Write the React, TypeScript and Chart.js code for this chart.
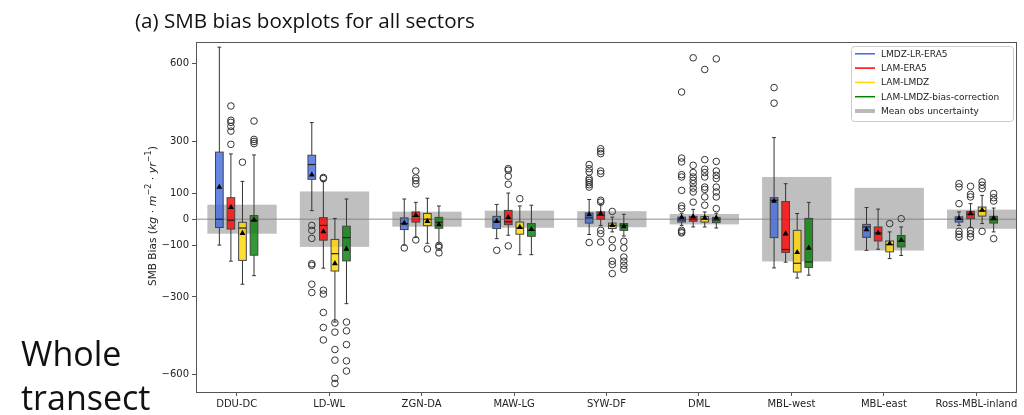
import React, { useEffect, useRef } from "react";
import { Chart, registerables } from "chart.js";

Chart.register(...registerables);

// ---------- data ----------
const categories = ["DDU-DC", "LD-WL", "ZGN-DA", "MAW-LG", "SYW-DF", "DML", "MBL-west", "MBL-east", "Ross-MBL-inland"];
const seriesNames = ["LMDZ-LR-ERA5", "LAM-ERA5", "LAM-LMDZ", "LAM-LMDZ-bias-correction"];
const yTickValues = [-600, -300, -100, 0, 100, 300, 600];
const obsUncertainty = [56, 107, 29, 33, 31, 20, 163, 121, 37];

// LMDZ-LR-ERA5
const lmdzLrEra5Low = [-100, 33, -100, -75, -59, -24, -188, -120, -24];
const lmdzLrEra5Q1 = [-32, 154, -40, -36, -15, -11, -71, -70, -11];
const lmdzLrEra5Median = [0, 211, -17, -9, 5, -3, 73, -30, 0];
const lmdzLrEra5Q3 = [259, 247, 5, 11, 24, 8, 83, -20, 9];
const lmdzLrEra5High = [664, 373, 78, 57, 76, 23, 315, 45, 28];
const lmdzLrEra5Mean = [124, 171, -15, -8, 18, 7, 70, -40, 3];
const lmdzLrEra5Outliers = [
  [],
  [-24, -43, -74, -172, -178, -251, -283],
  [-111],
  [-120],
  [211, 195, 182, 157, 150, 141, 133, 124, -90],
  [491, 236, 221, 172, 163, 111, 51, 41, -43, -49, -53],
  [508, 448],
  [],
  [137, 124, 60, -47, -58, -69],
];

// LAM-ERA5
const lamEra5Low = [-162, -189, -70, -62, -24, -30, -166, -116, -32];
const lamEra5Q1 = [-38, -81, -11, -21, 0, -8, -128, -84, 2];
const lamEra5Median = [-4, -24, 11, -10, 15, 0, -117, -53, 19];
const lamEra5Q3 = [83, 6, 28, 34, 28, 11, 68, -30, 30];
const lamEra5High = [252, 145, 65, 101, 56, 38, 137, 39, 60];
const lamEra5Mean = [46, -48, 15, 7, 22, 10, -56, -53, 22];
const lamEra5Outliers = [
  [437, 382, 374, 358, 340, 289],
  [161, 157, -274, -289, -360, -418, -466],
  [186, 159, 149, 136, -80],
  [195, 189, 166, 135, -103],
  [272, 262, 253, 186, 176, 73, 66, -43, -56, -88],
  [623, 208, 180, 163, 150, 137, 120, 105, 66],
  [],
  [],
  [127, 96, 86, -43, -56, -69],
];

// LAM-LMDZ
const lamLmdzLow = [-251, -397, -93, -137, -49, -30, -227, -152, -17];
const lamLmdzQ1 = [-159, -200, -25, -58, -36, -11, -204, -126, 12];
const lamLmdzMedian = [-34, -133, 0, -34, -24, 0, -170, -98, 32];
const lamLmdzQ3 = [-12, -78, 22, -11, -15, 10, -43, -84, 47];
const lamLmdzHigh = [146, 3, 81, 51, 8, 28, 22, -49, 92];
const lamLmdzMean = [-54, -171, -8, -31, -24, 5, -128, -94, 35];
const lamLmdzOutliers = [
  [220],
  [-400, -436, -503, -544, -614, -634],
  [-115],
  [79],
  [30, -79, -110, -162, -175, -210],
  [578, 230, 193, 180, 163, 124, 115, 86, 54],
  [],
  [-17],
  [144, 131, 118, -47],
];

// LAM-LMDZ-bias-correction
const lamLmdzBcLow = [-218, -326, -96, -137, -65, -34, -216, -140, -49];
const lamLmdzBcQ1 = [-139, -161, -35, -66, -43, -13, -186, -107, -15];
const lamLmdzBcMedian = [-5, -71, -12, -43, -24, -3, -165, -85, -2];
const lamLmdzBcQ3 = [14, -27, 7, -17, -17, 7, 3, -63, 11];
const lamLmdzBcHigh = [248, 78, 51, 54, 19, 23, 65, -30, 43];
const lamLmdzBcMean = [-3, -115, -21, -39, -28, 5, -111, -81, 4];
const lamLmdzBcOutliers = [
  [379, 308, 300, 292],
  [-397, -431, -484, -547, -586],
  [-101, -108, -130],
  [],
  [-85, -111, -146, -162, -178, -193],
  [619, 223, 186, 169, 157, 124, 105, 86, 41],
  [],
  [2],
  [99, 83, 70, -75],
];

// ---------- styling ----------
const boxFills = ["rgba(65,105,225,0.8)", "rgba(255,0,0,0.8)", "rgba(255,215,0,0.8)", "rgba(0,128,0,0.8)"];
const legendColors = ["#4169e1", "#ff0000", "#ffd700", "#008000"];
const groupOffsets = [-0.1875, -0.0625, 0.0625, 0.1875];
const BOX_W = 0.083;
const RECT_W = 0.75;
const RECT_SHIFT = 0.058;
const FONT = "'DejaVu Sans', sans-serif";

const stats = [
  { low: lmdzLrEra5Low, q1: lmdzLrEra5Q1, med: lmdzLrEra5Median, q3: lmdzLrEra5Q3, high: lmdzLrEra5High, mean: lmdzLrEra5Mean, out: lmdzLrEra5Outliers },
  { low: lamEra5Low, q1: lamEra5Q1, med: lamEra5Median, q3: lamEra5Q3, high: lamEra5High, mean: lamEra5Mean, out: lamEra5Outliers },
  { low: lamLmdzLow, q1: lamLmdzQ1, med: lamLmdzMedian, q3: lamLmdzQ3, high: lamLmdzHigh, mean: lamLmdzMean, out: lamLmdzOutliers },
  { low: lamLmdzBcLow, q1: lamLmdzBcQ1, med: lamLmdzBcMedian, q3: lamLmdzBcQ3, high: lamLmdzBcHigh, mean: lamLmdzBcMean, out: lamLmdzBcOutliers },
];

const boxPlugin = {
  id: "boxplots",
  beforeDatasetsDraw(chart: any) {
    const { ctx, chartArea, scales } = chart;
    const x = scales.x;
    const y = scales.y;
    ctx.save();
    ctx.beginPath();
    ctx.rect(chartArea.left, chartArea.top, chartArea.right - chartArea.left, chartArea.bottom - chartArea.top);
    ctx.clip();

    // obs uncertainty rectangles
    ctx.fillStyle = "rgba(128,128,128,0.5)";
    obsUncertainty.forEach((u, i) => {
      const x0 = x.getPixelForValue(i + RECT_SHIFT - RECT_W / 2);
      const x1 = x.getPixelForValue(i + RECT_SHIFT + RECT_W / 2);
      const y0 = y.getPixelForValue(u);
      const y1 = y.getPixelForValue(-u);
      ctx.fillRect(x0, y0, x1 - x0, y1 - y0);
    });

    // zero line
    ctx.strokeStyle = "rgba(128,128,128,0.6)";
    ctx.lineWidth = 1.5;
    ctx.beginPath();
    const y0 = y.getPixelForValue(0);
    ctx.moveTo(chartArea.left, y0);
    ctx.lineTo(chartArea.right, y0);
    ctx.stroke();

    // boxes
    stats.forEach((s, si) => {
      categories.forEach((_, i) => {
        const c = i + groupOffsets[si];
        const xl = x.getPixelForValue(c - BOX_W / 2);
        const xr = x.getPixelForValue(c + BOX_W / 2);
        const xc = x.getPixelForValue(c);
        const cl = x.getPixelForValue(c - BOX_W / 4);
        const cr = x.getPixelForValue(c + BOX_W / 4);
        const pLow = y.getPixelForValue(s.low[i]);
        const pQ1 = y.getPixelForValue(s.q1[i]);
        const pMed = y.getPixelForValue(s.med[i]);
        const pQ3 = y.getPixelForValue(s.q3[i]);
        const pHigh = y.getPixelForValue(s.high[i]);

        ctx.strokeStyle = "#333";
        ctx.lineWidth = 1;
        ctx.beginPath();
        ctx.moveTo(xc, pQ1);
        ctx.lineTo(xc, pLow);
        ctx.moveTo(xc, pQ3);
        ctx.lineTo(xc, pHigh);
        ctx.moveTo(cl, pLow);
        ctx.lineTo(cr, pLow);
        ctx.moveTo(cl, pHigh);
        ctx.lineTo(cr, pHigh);
        ctx.stroke();

        ctx.fillStyle = boxFills[si];
        ctx.fillRect(xl, pQ3, xr - xl, pQ1 - pQ3);
        ctx.strokeStyle = "#444";
        ctx.strokeRect(xl, pQ3, xr - xl, pQ1 - pQ3);

        ctx.strokeStyle = "#222";
        ctx.lineWidth = 1.2;
        ctx.beginPath();
        ctx.moveTo(xl, pMed);
        ctx.lineTo(xr, pMed);
        ctx.stroke();
      });
    });
    ctx.restore();
  },
  afterDraw(chart: any) {
    const { ctx, chartArea } = chart;
    ctx.save();
    // frame
    ctx.strokeStyle = "#555";
    ctx.lineWidth = 1;
    ctx.strokeRect(
      Math.round(chartArea.left) + 0.5,
      Math.round(chartArea.top) + 0.5,
      Math.round(chartArea.right - chartArea.left) - 1,
      Math.round(chartArea.bottom - chartArea.top)
    );

    // legend
    const lw = 162;
    const lh = 75;
    const lx = chartArea.right - 4 - lw;
    const ly = chartArea.top + 4;
    ctx.fillStyle = "rgba(255,255,255,0.85)";
    ctx.strokeStyle = "#ccc";
    ctx.lineWidth = 1;
    ctx.beginPath();
    if ((ctx as any).roundRect) (ctx as any).roundRect(lx + 0.5, ly + 0.5, lw, lh, 3);
    else ctx.rect(lx + 0.5, ly + 0.5, lw, lh);
    ctx.fill();
    ctx.stroke();
    const labels = [...seriesNames, "Mean obs uncertainty"];
    ctx.font = `9px ${FONT}`;
    ctx.textBaseline = "middle";
    ctx.textAlign = "left";
    labels.forEach((lab, k) => {
      const ry = ly + 7.8 + k * 14.3;
      ctx.beginPath();
      if (k < 4) {
        ctx.strokeStyle = legendColors[k];
        ctx.lineWidth = 1.5;
      } else {
        ctx.strokeStyle = "rgba(128,128,128,0.55)";
        ctx.lineWidth = 4;
      }
      ctx.moveTo(lx + 4, ry);
      ctx.lineTo(lx + 24, ry);
      ctx.stroke();
      ctx.fillStyle = "#222";
      ctx.fillText(lab, lx + 30, ry + 0.5);
    });

    // y axis title with math-style parts
    const parts = [
      { t: "SMB Bias ", f: `10.5px ${FONT}`, dy: 0 },
      { t: "(", f: `11px ${FONT}`, dy: 0 },
      { t: "kg", f: `italic 11px ${FONT}`, dy: 0 },
      { t: " \u00b7 ", f: `11px ${FONT}`, dy: 0 },
      { t: "m", f: `italic 11px ${FONT}`, dy: 0 },
      { t: "\u22122", f: `8px ${FONT}`, dy: -4.5 },
      { t: " \u00b7 ", f: `11px ${FONT}`, dy: 0 },
      { t: "yr", f: `italic 11px ${FONT}`, dy: 0 },
      { t: "\u22121", f: `8px ${FONT}`, dy: -4.5 },
      { t: ")", f: `11px ${FONT}`, dy: 0 },
    ];
    let total = 0;
    const widths = parts.map((p) => {
      ctx.font = p.f;
      const w = ctx.measureText(p.t).width;
      total += w;
      return w;
    });
    ctx.translate(153, 216);
    ctx.rotate(-Math.PI / 2);
    ctx.fillStyle = "#222";
    ctx.textBaseline = "middle";
    let cx = -total / 2;
    parts.forEach((p, k) => {
      ctx.font = p.f;
      ctx.fillText(p.t, cx, p.dy);
      cx += widths[k];
    });
    ctx.restore();
  },
};

export default function App() {
  const canvasRef = useRef<HTMLCanvasElement | null>(null);

  useEffect(() => {
    if (!canvasRef.current) return;
    const outlierSets = stats.map((s, si) => ({
      type: "scatter" as const,
      label: seriesNames[si] + " outliers",
      data: s.out.flatMap((vals, i) => vals.map((v) => ({ x: i + groupOffsets[si], y: v }))),
      pointStyle: "circle",
      pointRadius: 3.3,
      pointBackgroundColor: "rgba(0,0,0,0)",
      pointBorderColor: "#333",
      pointBorderWidth: 1,
    }));
    const meanSets = stats.map((s, si) => ({
      type: "scatter" as const,
      label: seriesNames[si] + " mean",
      data: s.mean.map((v, i) => ({ x: i + groupOffsets[si], y: v })),
      pointStyle: "triangle",
      pointRadius: 3.4,
      pointBackgroundColor: "#000",
      pointBorderColor: "#000",
      pointBorderWidth: 0,
    }));

    const chart = new Chart(canvasRef.current, {
      type: "scatter",
      data: { datasets: [...outlierSets, ...meanSets] as any },
      options: {
        animation: false,
        responsive: false,
        events: [],
        layout: { padding: { top: 42, right: 7, left: 0, bottom: 0 } },
        plugins: { legend: { display: false }, tooltip: { enabled: false } },
        scales: {
          x: {
            type: "linear",
            min: -0.44,
            max: 8.44,
            afterBuildTicks: (scale: any) => {
              scale.ticks = categories.map((_, i) => ({ value: i }));
            },
            afterFit: (scale: any) => {
              scale.height = 23;
              scale.paddingLeft = 0;
              scale.paddingRight = 0;
            },
            ticks: {
              autoSkip: false,
              maxRotation: 0,
              minRotation: 0,
              padding: 2,
              color: "#222",
              font: { family: FONT, size: 10 },
              callback: (v: any) => categories[Math.round(Number(v))] ?? "",
            },
            grid: { drawOnChartArea: false, drawTicks: true, tickLength: 4, color: "#555" },
            border: { display: false },
          },
          y: {
            type: "linear",
            min: -667,
            max: 684,
            afterBuildTicks: (scale: any) => {
              scale.ticks = yTickValues.map((v) => ({ value: v }));
            },
            afterFit: (scale: any) => {
              scale.width = 196;
              scale.paddingTop = 0;
              scale.paddingBottom = 0;
            },
            ticks: {
              padding: 3,
              color: "#222",
              font: { family: FONT, size: 10 },
              callback: (v: any) => (Number(v) < 0 ? "\u2212" + Math.abs(Number(v)) : String(v)),
            },
            grid: { drawOnChartArea: false, drawTicks: true, tickLength: 4, color: "#555" },
            border: { display: false },
          },
        },
      },
      plugins: [boxPlugin],
    });
    return () => chart.destroy();
  }, []);

  return (
    <div style={{ position: "fixed", left: 0, top: 0, width: 1024, height: 415, background: "#fff", overflow: "hidden" }}>
      <canvas ref={canvasRef} width={1024} height={415} style={{ position: "absolute", left: 0, top: 0, width: 1024, height: 415 }} />
      <div
        style={{
          position: "absolute",
          left: 135,
          top: 10,
          fontFamily: "'Open Sans', sans-serif",
          fontSize: 20.6,
          lineHeight: "20px",
          color: "#111",
          whiteSpace: "nowrap",
        }}
      >
        (a) SMB bias boxplots for all sectors
      </div>
      <div
        style={{
          position: "absolute",
          left: 21,
          top: 331,
          fontFamily: "'Open Sans', sans-serif",
          fontSize: 34,
          lineHeight: "44px",
          color: "#111",
        }}
      >
        Whole
        <br />
        transect
      </div>
    </div>
  );
}
